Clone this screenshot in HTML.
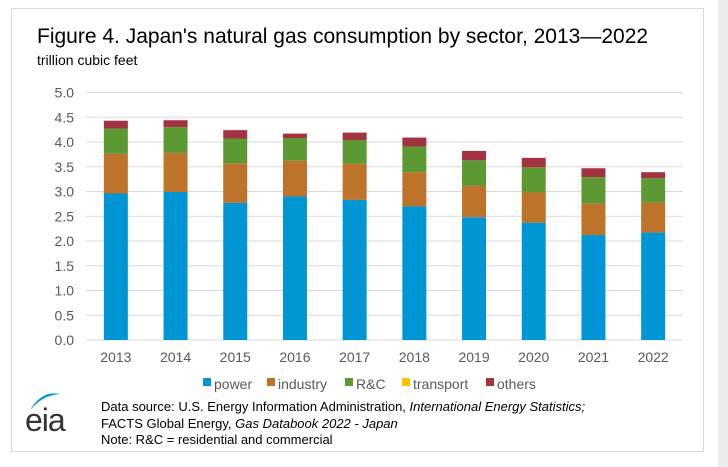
<!DOCTYPE html>
<html><head><meta charset="utf-8"><style>
body{margin:0;width:728px;height:467px;background:#fff;overflow:hidden;font-family:"Liberation Sans",sans-serif;position:relative}
.frame{position:absolute;left:11px;top:8px;width:693px;height:444px;border:1px solid #d9d9d9;box-sizing:border-box}
.strip{position:absolute;left:718px;top:0;width:10px;height:467px;background:#ececec}
</style></head><body>
<div class="strip"></div>
<div class="frame"></div>
<svg width="728" height="467" style="position:absolute;left:0;top:0" id="chart">
<text x="37" y="43" font-size="21" fill="#000">Figure 4. Japan's natural gas consumption by sector, 2013—2022</text>
<text x="37" y="65" font-size="14" fill="#000">trillion cubic feet</text>
<g id="grid"></g><g id="bars"></g><g id="labels"></g>
<g font-size="14" fill="#595959">
<rect x="203" y="378" width="8" height="8" fill="#0096d6"/><text x="214" y="389">power</text>
<rect x="267" y="378" width="8" height="8" fill="#bd732a"/><text x="278" y="389">industry</text>
<rect x="345" y="378" width="8" height="8" fill="#5c9933"/><text x="356" y="389">R&amp;C</text>
<rect x="402" y="378" width="8" height="8" fill="#ffc000"/><text x="413" y="389">transport</text>
<rect x="486" y="378" width="8" height="8" fill="#a33340"/><text x="497" y="389">others</text>
</g>
<g>
<path d="M30 410 Q42 390 60 394 Q46 395 36 404 Z" fill="#0096d6"/>
<text x="25" y="431" font-size="32" fill="#333" letter-spacing="-1">eia</text>
</g>
<g font-size="13" fill="#000">
<text x="101" y="411">Data source: U.S. Energy Information Administration, <tspan font-style="italic">International Energy Statistics;</tspan></text>
<text x="101" y="428">FACTS Global Energy, <tspan font-style="italic">Gas Databook 2022 - Japan</tspan></text>
<text x="101" y="444">Note: R&amp;C = residential and commercial</text>
</g>
</svg>
<script>
const years=["2013","2014","2015","2016","2017","2018","2019","2020","2021","2022"];
const power=[2.96,2.99,2.77,2.90,2.83,2.70,2.48,2.37,2.12,2.17];
const industry=[0.80,0.79,0.80,0.72,0.73,0.69,0.64,0.61,0.64,0.61];
const rc=[0.51,0.52,0.50,0.46,0.48,0.52,0.51,0.51,0.53,0.49];
const transport=[0,0,0,0,0,0,0,0,0,0];
const others=[0.16,0.14,0.17,0.09,0.15,0.18,0.19,0.19,0.18,0.12];
const yTicks=["0.0","0.5","1.0","1.5","2.0","2.5","3.0","3.5","4.0","4.5","5.0"];
const series=[[power,"#0096d6","power"],[industry,"#bd732a","industry"],[rc,"#5c9933","rc"],[transport,"#ffc000","transport"],[others,"#a33340","others"]];
const NS="http://www.w3.org/2000/svg";
const x0=86,x1=683,y0=340,yTop=92.5,yMax=5;
const band=(x1-x0)/years.length;
const ys=v=>y0-v/yMax*(y0-yTop);
const xc=i=>x0+band*(i+0.5);
const grid=document.getElementById('grid'),bars=document.getElementById('bars'),labels=document.getElementById('labels');
function mk(t,a){const e=document.createElementNS(NS,t);for(const k in a)e.setAttribute(k,a[k]);return e;}
yTicks.forEach(t=>{const y=ys(parseFloat(t));
const l=mk('line',{x1:x0,x2:x1,y1:y,y2:y,stroke:'#d9d9d9','stroke-width':1});


grid.appendChild(l);
const tx=mk('text',{x:74,y:y+5,'font-size':14,fill:'#595959','text-anchor':'end'});tx.textContent=t;


labels.appendChild(tx);});
years.forEach((yr,i)=>{let cum=0;
series.forEach(([arr,col,nm])=>{const v=arr[i];if(v<=0)return;
const r=mk('rect',{x:xc(i)-12,width:24,y:ys(cum+v),height:ys(cum)-ys(cum+v),fill:col});


bars.appendChild(r);cum+=v;});
const tx=mk('text',{x:xc(i),y:362,'font-size':14,fill:'#595959','text-anchor':'middle'});tx.textContent=yr;


labels.appendChild(tx);});
</script>
</body></html>
